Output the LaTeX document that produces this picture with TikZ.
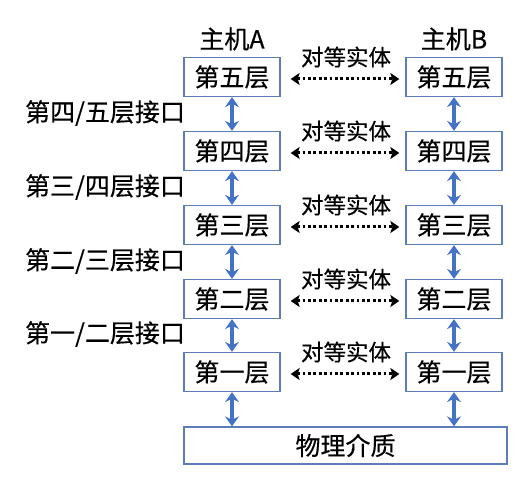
\documentclass[tikz,border=0pt]{standalone}
\usepackage{fontspec}
\setmainfont{Noto Sans CJK SC}[BoldFont={Noto Sans CJK SC}, BoldFeatures={FakeBold=0.35}]
\usetikzlibrary{arrows.meta}
\definecolor{LayerBlue}{HTML}{4472C4}
\definecolor{FrameBlue}{HTML}{5B7DB8}

\begin{document}
\begin{tikzpicture}[
    x=1pt,
    y=-1pt,
    font=\fontsize{25}{29}\selectfont\bfseries,
    layer/.style={draw=FrameBlue, line width=1.3pt, minimum width=96pt,
                  minimum height=39pt, inner sep=0pt, align=center},
    medium/.style={draw=FrameBlue, line width=1.3pt, minimum width=323pt,
                   minimum height=37pt, inner sep=0pt},
    iface/.style={draw=LayerBlue, line width=3.6pt,
                  {Stealth[length=10pt,width=14pt,inset=3.5pt]}-{Stealth[length=10pt,width=14pt,inset=3.5pt]}},
    peer/.style={draw=black, line width=3pt, dash pattern=on 2.8pt off 2.6pt,
                 {Stealth[length=9pt,width=12pt,inset=2pt]}-{Stealth[length=9pt,width=12pt,inset=2pt]}},
    peerlabel/.style={font=\fontsize{22.5}{26}\selectfont\bfseries}
]
\useasboundingbox (0,0) rectangle (528,486);

% Host titles
\node (hostA) at (232,39) {主机A};
\node (hostB) at (454,39) {主机B};

% Layer stacks of both hosts with peer-entity links
\foreach \n/\t/\y in {5/第五层/77, 4/第四层/151, 3/第三层/225, 2/第二层/299, 1/第一层/372} {
    \node[layer] (A\n) at (232,\y) {\t};
    \node[layer] (B\n) at (454,\y) {\t};
    \coordinate (pl\n) at ([yshift=-2pt]A\n.east);
    \coordinate (pr\n) at ([yshift=-2pt]B\n.west);
    \draw[peer] ([xshift=10pt]pl\n) -- ([xshift=-6pt]pr\n);
    \node[peerlabel] (peer\n) at (346,\y-20) {对等实体};
}

% Interface labels between adjacent layers
\foreach \u/\l/\y in {5/4/113, 4/3/187, 3/2/261, 2/1/334} {
    \node (if\l) at (105,\y) {\ifcase\l\or 第一/二层接口\or 第二/三层接口\or 第三/四层接口\or 第四/五层接口\fi};
    \draw[iface] (A\u.south) -- (A\l.north);
    \draw[iface] (B\u.south) -- (B\l.north);
}

% Physical medium
\node[medium] (phys) at (345.5,445.5) {物理介质};
\draw[iface] (A1.south) -- (A1.south |- phys.north);
\draw[iface] (B1.south) -- (B1.south |- phys.north);
\end{tikzpicture}
\end{document}
